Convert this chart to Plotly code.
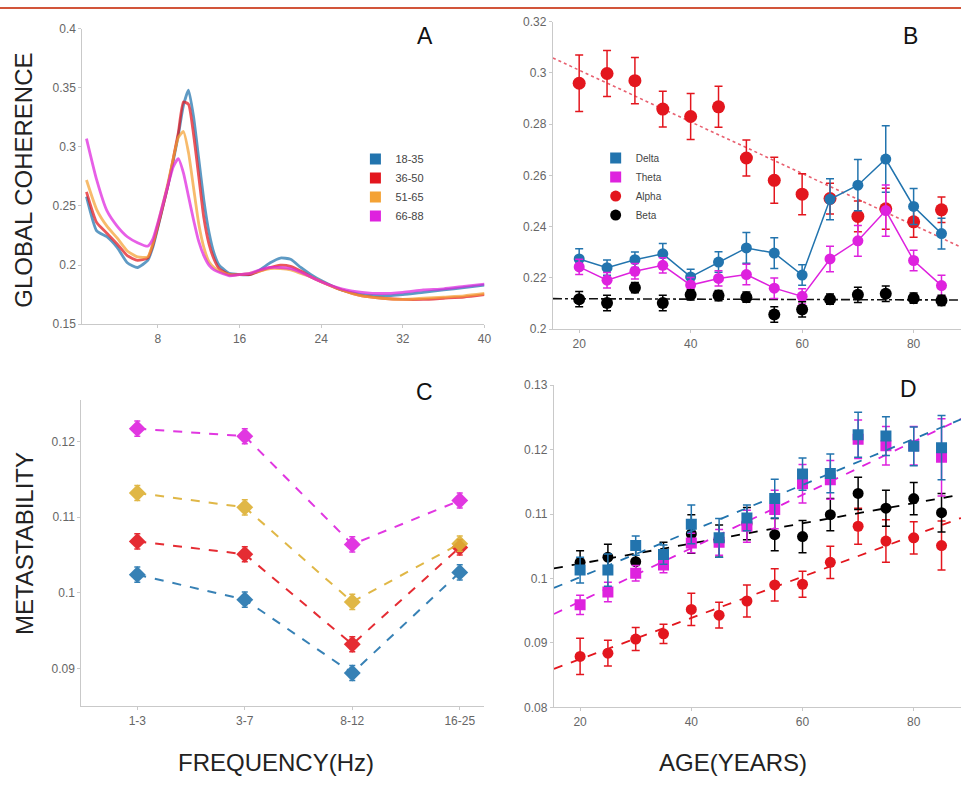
import numpy as np
import plotly.graph_objects as go

# ---------------- Panel A data ----------------
freq = [1, 2, 3, 4, 5, 6, 7, 7.5, 8, 8.5, 9, 9.5, 10, 10.5, 11, 11.5, 12, 12.5, 13, 13.5, 14, 15, 16, 17,
        18, 19, 20, 21, 22, 23, 24, 26, 28, 30, 32, 34, 36, 38, 40]
coh_18_35 = [0.258, 0.229, 0.224, 0.215, 0.202, 0.198, 0.204, 0.215, 0.232, 0.250, 0.268, 0.288, 0.310,
             0.335, 0.348, 0.325, 0.290, 0.255, 0.228, 0.210, 0.200, 0.193, 0.192, 0.192, 0.196, 0.202,
             0.206, 0.205, 0.198, 0.192, 0.187, 0.179, 0.175, 0.174, 0.175, 0.177, 0.179, 0.181, 0.183]
coh_36_50 = [0.262, 0.236, 0.227, 0.218, 0.208, 0.204, 0.206, 0.217, 0.233, 0.250, 0.268, 0.290, 0.312,
             0.338, 0.336, 0.310, 0.275, 0.240, 0.218, 0.205, 0.197, 0.192, 0.192, 0.192, 0.195, 0.198,
             0.200, 0.199, 0.195, 0.190, 0.186, 0.179, 0.174, 0.172, 0.171, 0.171, 0.172, 0.173, 0.175]
coh_51_65 = [0.272, 0.247, 0.233, 0.223, 0.212, 0.207, 0.207, 0.218, 0.235, 0.252, 0.270, 0.290, 0.308,
             0.313, 0.295, 0.265, 0.235, 0.215, 0.203, 0.198, 0.195, 0.192, 0.192, 0.193, 0.195, 0.197,
             0.197, 0.196, 0.193, 0.190, 0.186, 0.179, 0.174, 0.172, 0.171, 0.172, 0.173, 0.174, 0.176]
coh_66_88 = [0.307, 0.272, 0.246, 0.233, 0.224, 0.219, 0.216, 0.222, 0.236, 0.252, 0.268, 0.283, 0.290,
             0.278, 0.258, 0.238, 0.220, 0.208, 0.200, 0.196, 0.194, 0.191, 0.192, 0.193, 0.196, 0.198,
             0.198, 0.197, 0.194, 0.190, 0.186, 0.180, 0.177, 0.176, 0.177, 0.179, 0.180, 0.182, 0.184]
group_names = ["18-35", "36-50", "51-65", "66-88"]

# ---------------- Panel B data ----------------
ages = [20, 25, 30, 35, 40, 45, 50, 55, 60, 65, 70, 75, 80, 85]
gc_delta = [0.2274, 0.2240, 0.2271, 0.2294, 0.2204, 0.2262, 0.2317, 0.2297, 0.2211, 0.2507, 0.2562, 0.2664, 0.2479, 0.2373]
gc_delta_err = [0.004, 0.003, 0.003, 0.004, 0.003, 0.004, 0.006, 0.006, 0.004, 0.008, 0.010, 0.013, 0.007, 0.006]
gc_theta = [0.2243, 0.2191, 0.2226, 0.2249, 0.2172, 0.2198, 0.2213, 0.2160, 0.2128, 0.2274, 0.2345, 0.2463, 0.2268, 0.2170]
gc_theta_err = [0.003, 0.003, 0.003, 0.003, 0.003, 0.003, 0.004, 0.004, 0.003, 0.005, 0.006, 0.010, 0.004, 0.004]
gc_alpha = [0.2960, 0.2998, 0.2970, 0.2859, 0.2830, 0.2868, 0.2668, 0.2581, 0.2527, 0.2510, 0.2440, 0.2470, 0.2419, 0.2466]
gc_alpha_err = [0.011, 0.009, 0.009, 0.007, 0.009, 0.008, 0.007, 0.009, 0.008, 0.006, 0.006, 0.008, 0.006, 0.005]
gc_beta = [0.2117, 0.2102, 0.2162, 0.2102, 0.2134, 0.2131, 0.2125, 0.2057, 0.2077, 0.2117, 0.2134, 0.2138, 0.2121, 0.2112]
gc_beta_err = [0.003, 0.003, 0.002, 0.003, 0.002, 0.002, 0.002, 0.003, 0.003, 0.002, 0.003, 0.003, 0.002, 0.002]
band_names = ["Delta", "Theta", "Alpha", "Beta"]

# ---------------- Panel C data ----------------
bands_c = ["1-3", "3-7", "8-12", "16-25"]
meta_18_35 = [0.1024, 0.0991, 0.0894, 0.1027]
meta_36_50 = [0.1068, 0.1051, 0.0932, 0.1060]
meta_51_65 = [0.1132, 0.1113, 0.0988, 0.1065]
meta_66_88 = [0.1217, 0.1207, 0.1064, 0.1122]
meta_err = [0.0010, 0.0010, 0.0010, 0.0010]

# ---------------- Panel D data ----------------
ms_delta = [0.1013, 0.1013, 0.1051, 0.1037, 0.1084, 0.1063, 0.1094, 0.1124, 0.1162, 0.1163, 0.1223, 0.1221, 0.1205, 0.1203]
ms_delta_err = [0.0020, 0.0025, 0.0015, 0.0015, 0.0030, 0.0030, 0.0020, 0.0030, 0.0025, 0.0030, 0.0035, 0.0030, 0.0030, 0.0050]
ms_theta = [0.0959, 0.0979, 0.1008, 0.1021, 0.1055, 0.1056, 0.1081, 0.1107, 0.1147, 0.1153, 0.1216, 0.1206, 0.1206, 0.1188]
ms_theta_err = [0.0015, 0.0015, 0.0012, 0.0012, 0.0015, 0.0020, 0.0025, 0.0030, 0.0030, 0.0030, 0.0030, 0.0030, 0.0030, 0.0060]
ms_alpha = [0.0879, 0.0884, 0.0906, 0.0914, 0.0952, 0.0943, 0.0965, 0.0990, 0.0991, 0.1025, 0.1081, 0.1058, 0.1063, 0.1051]
ms_alpha_err = [0.0028, 0.0020, 0.0018, 0.0015, 0.0025, 0.0020, 0.0025, 0.0025, 0.0020, 0.0025, 0.0028, 0.0033, 0.0025, 0.0038]
ms_beta = [0.1025, 0.1033, 0.1026, 0.1038, 0.1069, 0.1058, 0.1085, 0.1068, 0.1065, 0.1099, 0.1132, 0.1109, 0.1124, 0.1102]
ms_beta_err = [0.0018, 0.0020, 0.0020, 0.0018, 0.0030, 0.0025, 0.0025, 0.0025, 0.0025, 0.0025, 0.0025, 0.0028, 0.0025, 0.0030]

# ---------------- styles ----------------
C_BLUE = "#2274AE"
C_RED = "#E3161E"
C_ORANGE = "#F4A234"
C_GOLD = "#DDB033"
C_MAG = "#DE22DE"
C_BLACK = "#000000"
FONT = "Liberation Sans, Arial, sans-serif"
AXC = "#C9C9C9"
TICKC = "#666666"

age_range = [15.3, 88.5]

fig = go.Figure()

# ---- Panel A ----
for vals, col, name in zip([coh_18_35, coh_36_50, coh_51_65, coh_66_88],
                           [C_BLUE, C_RED, C_ORANGE, C_MAG], group_names):
    fig.add_trace(go.Scatter(x=freq, y=vals, mode="lines", line=dict(color=col, width=2.8, shape="spline", smoothing=0.5),
                             opacity=0.72, showlegend=False, xaxis="x", yaxis="y", hoverinfo="skip"))
for col, name in zip([C_BLUE, C_RED, C_ORANGE, C_MAG], group_names):
    fig.add_trace(go.Scatter(x=[None], y=[None], mode="markers", name=name,
                             marker=dict(symbol="square", size=11, color=col),
                             legend="legend", xaxis="x", yaxis="y"))

# ---- Panel B ----
xfit = np.array(age_range)
ca = np.polyfit(ages, gc_alpha, 1)
cb = np.polyfit(ages, gc_beta, 1)
fig.add_trace(go.Scatter(x=xfit, y=np.polyval(ca, xfit), mode="lines", line=dict(color="#E86070", width=1.6, dash="dot"),
                         showlegend=False, xaxis="x2", yaxis="y2", hoverinfo="skip"))
fig.add_trace(go.Scatter(x=xfit, y=np.polyval(cb, xfit), mode="lines", line=dict(color="#111111", width=1.6, dash="dashdot"),
                         showlegend=False, xaxis="x2", yaxis="y2", hoverinfo="skip"))
fig.add_trace(go.Scatter(x=ages, y=gc_alpha, mode="markers", marker=dict(size=13, color=C_RED),
                         error_y=dict(type="data", array=gc_alpha_err, color=C_RED, thickness=1.5, width=4),
                         showlegend=False, xaxis="x2", yaxis="y2"))
fig.add_trace(go.Scatter(x=ages, y=gc_delta, mode="lines+markers", line=dict(color=C_BLUE, width=1.5),
                         marker=dict(size=11, color=C_BLUE),
                         error_y=dict(type="data", array=gc_delta_err, color=C_BLUE, thickness=1.5, width=4),
                         showlegend=False, xaxis="x2", yaxis="y2"))
fig.add_trace(go.Scatter(x=ages, y=gc_theta, mode="lines+markers", line=dict(color=C_MAG, width=1.5),
                         marker=dict(size=11, color=C_MAG),
                         error_y=dict(type="data", array=gc_theta_err, color=C_MAG, thickness=1.5, width=4),
                         showlegend=False, xaxis="x2", yaxis="y2"))
fig.add_trace(go.Scatter(x=ages, y=gc_beta, mode="markers", marker=dict(size=12, color=C_BLACK),
                         error_y=dict(type="data", array=gc_beta_err, color=C_BLACK, thickness=1.5, width=4),
                         showlegend=False, xaxis="x2", yaxis="y2"))
for col, name, sym in zip([C_BLUE, C_MAG, C_RED, C_BLACK], band_names, ["square", "square", "circle", "circle"]):
    fig.add_trace(go.Scatter(x=[None], y=[None], mode="markers", name=name,
                             marker=dict(symbol=sym, size=11, color=col),
                             legend="legend2", xaxis="x2", yaxis="y2"))

# ---- Panel C ----
for vals, col in zip([meta_18_35, meta_36_50, meta_51_65, meta_66_88], [C_BLUE, C_RED, C_GOLD, C_MAG]):
    fig.add_trace(go.Scatter(x=bands_c, y=vals, mode="lines+markers",
                             line=dict(color=col, width=2, dash="dash"),
                             marker=dict(symbol="diamond", size=13, color=col),
                             error_y=dict(type="data", array=meta_err, color=col, thickness=1.5, width=3),
                             opacity=0.9, showlegend=False, xaxis="x3", yaxis="y3"))

# ---- Panel D ----
for vals, err, col, sym in zip([ms_alpha, ms_beta, ms_theta, ms_delta],
                               [ms_alpha_err, ms_beta_err, ms_theta_err, ms_delta_err],
                               [C_RED, C_BLACK, C_MAG, C_BLUE],
                               ["circle", "circle", "square", "square"]):
    cf = np.polyfit(ages, vals, 1)
    fig.add_trace(go.Scatter(x=xfit, y=np.polyval(cf, xfit), mode="lines",
                             line=dict(color=col, width=1.8, dash="dash"),
                             showlegend=False, xaxis="x4", yaxis="y4", hoverinfo="skip"))
    fig.add_trace(go.Scatter(x=ages, y=vals, mode="markers", marker=dict(symbol=sym, size=11, color=col),
                             error_y=dict(type="data", array=err, color=col, thickness=1.5, width=4),
                             showlegend=False, xaxis="x4", yaxis="y4"))

W, H = 968, 787


def px_x(a, b):
    return [a / W, b / W]


def px_y(top, bottom):
    return [1 - bottom / H, 1 - top / H]


axis_common = dict(showline=True, linecolor=AXC, linewidth=1.2, showgrid=False, zeroline=False,
                   ticks="outside", ticklen=3, tickcolor=AXC,
                   tickfont=dict(family=FONT, size=12, color=TICKC))

fig.update_layout(
    width=W, height=H, margin=dict(l=0, r=0, t=0, b=0),
    paper_bgcolor="white", plot_bgcolor="white", font=dict(family=FONT),
    xaxis=dict(domain=px_x(83, 488), range=[0.6, 40], tickvals=[8, 16, 24, 32, 40],
               anchor="y", **axis_common),
    yaxis=dict(domain=px_y(22, 323), range=[0.15, 0.4], tickvals=[0.15, 0.2, 0.25, 0.3, 0.35, 0.4],
               ticktext=["0.15", "0.2", "0.25", "0.3", "0.35", "0.4"], anchor="x", **axis_common),
    xaxis2=dict(domain=px_x(557, 968), range=age_range, tickvals=[20, 40, 60, 80], anchor="y2", **axis_common),
    yaxis2=dict(domain=px_y(15, 328), range=[0.2, 0.32], tickvals=[0.2, 0.22, 0.24, 0.26, 0.28, 0.3, 0.32],
                ticktext=["0.2", "0.22", "0.24", "0.26", "0.28", "0.3", "0.32"], anchor="x2", **axis_common),
    xaxis3=dict(domain=px_x(82, 488), range=[-0.52, 3.23], type="category", anchor="y3", **axis_common),
    yaxis3=dict(domain=px_y(400, 712), range=[0.085, 0.1255], tickvals=[0.09, 0.1, 0.11, 0.12],
                ticktext=["0.09", "0.1", "0.11", "0.12"], anchor="x3", **axis_common),
    xaxis4=dict(domain=px_x(558, 968), range=age_range, tickvals=[20, 40, 60, 80], anchor="y4", **axis_common),
    yaxis4=dict(domain=px_y(385, 713), range=[0.08, 0.13], tickvals=[0.08, 0.09, 0.1, 0.11, 0.12, 0.13],
                ticktext=["0.08", "0.09", "0.1", "0.11", "0.12", "0.13"], anchor="x4", **axis_common),
    legend=dict(x=358 / W, y=1 - 140 / H, xanchor="left", yanchor="top", bgcolor="rgba(0,0,0,0)",
                font=dict(family=FONT, size=11, color="#444444"), itemwidth=30, tracegroupgap=0),
    legend2=dict(x=600 / W, y=1 - 139 / H, xanchor="left", yanchor="top", bgcolor="rgba(0,0,0,0)",
                 font=dict(family=FONT, size=10, color="#444444"), itemwidth=30, tracegroupgap=0),
    showlegend=True,
)

annotations = [
    dict(text="A", x=428 / W, y=1 - 30 / H),
    dict(text="B", x=917 / W, y=1 - 30 / H),
    dict(text="C", x=428 / W, y=1 - 392 / H),
    dict(text="D", x=915 / W, y=1 - 389 / H),
]
for a in annotations:
    fig.add_annotation(text=a["text"], x=a["x"], y=a["y"], xref="paper", yref="paper", showarrow=False,
                       xanchor="center", yanchor="middle", font=dict(family=FONT, size=23, color="#111111"))

titles = [
    dict(text="GLOBAL COHERENCE", x=24 / W, y=1 - 176 / H, angle=-90),
    dict(text="METASTABILITY", x=24 / W, y=1 - 546 / H, angle=-90),
    dict(text="FREQUENCY(Hz)", x=278 / W, y=1 - 769 / H, angle=0),
    dict(text="AGE(YEARS)", x=738 / W, y=1 - 769 / H, angle=0),
]
for t in titles:
    fig.add_annotation(text=t["text"], x=t["x"], y=t["y"], xref="paper", yref="paper", showarrow=False,
                       textangle=t["angle"], xanchor="center", yanchor="middle",
                       font=dict(family=FONT, size=24, color="#222222"))

fig.add_shape(type="rect", xref="paper", yref="paper", x0=0, x1=1, y0=1 - 2 / H, y1=1,
              line=dict(width=0), fillcolor="#D2553A")

fig.write_html("out.html")
